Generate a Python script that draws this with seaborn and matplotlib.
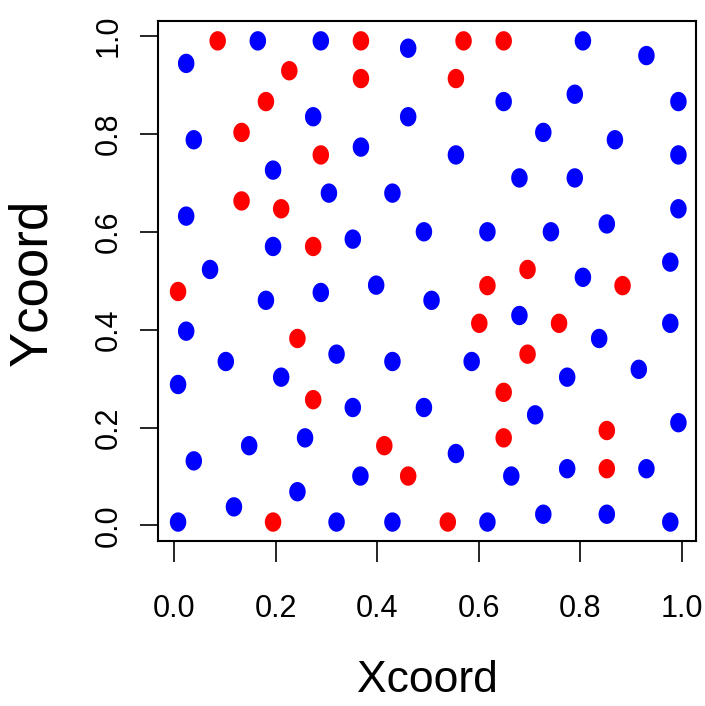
import numpy as np
import pandas as pd
import matplotlib
matplotlib.use("Agg")
import matplotlib.pyplot as plt
from matplotlib.path import Path
import seaborn as sns

# Point coordinates for the two groups
x_red = [0.086, 0.368, 0.570, 0.649, 0.227, 0.368, 0.555, 0.181, 0.133, 0.289,
         0.133, 0.211, 0.274, 0.696, 0.008, 0.617, 0.883, 0.601, 0.758, 0.243,
         0.696, 0.649, 0.274, 0.852, 0.649, 0.414, 0.461, 0.852, 0.195, 0.539]
y_red = [0.990, 0.990, 0.990, 0.990, 0.929, 0.913, 0.913, 0.866, 0.803, 0.757,
         0.663, 0.647, 0.570, 0.523, 0.478, 0.490, 0.490, 0.413, 0.413, 0.382,
         0.350, 0.272, 0.257, 0.194, 0.179, 0.163, 0.101, 0.116, 0.007, 0.007]

x_blue = [0.165, 0.289, 0.805, 0.461, 0.930, 0.024, 0.274, 0.461, 0.649, 0.789,
          0.993, 0.039, 0.368, 0.727, 0.868, 0.195, 0.555, 0.993, 0.305, 0.430,
          0.680, 0.789, 0.993, 0.024, 0.195, 0.352, 0.492, 0.617, 0.742, 0.852,
          0.071, 0.398, 0.977, 0.805, 0.181, 0.289, 0.507, 0.680, 0.837, 0.977,
          0.024, 0.320, 0.430, 0.102, 0.586, 0.211, 0.774, 0.915, 0.008, 0.352,
          0.492, 0.711, 0.993, 0.258, 0.148, 0.039, 0.555, 0.367, 0.664, 0.774,
          0.930, 0.243, 0.118, 0.008, 0.320, 0.430, 0.617, 0.727, 0.852, 0.977]
y_blue = [0.990, 0.990, 0.990, 0.975, 0.960, 0.944, 0.835, 0.835, 0.866, 0.881,
          0.866, 0.788, 0.773, 0.803, 0.788, 0.726, 0.757, 0.757, 0.679, 0.679,
          0.710, 0.710, 0.647, 0.632, 0.570, 0.585, 0.600, 0.600, 0.600, 0.616,
          0.523, 0.491, 0.538, 0.507, 0.460, 0.476, 0.460, 0.429, 0.382, 0.413,
          0.397, 0.350, 0.335, 0.335, 0.335, 0.303, 0.303, 0.319, 0.288, 0.241,
          0.241, 0.226, 0.210, 0.179, 0.163, 0.132, 0.147, 0.101, 0.101, 0.116,
          0.116, 0.069, 0.038, 0.007, 0.007, 0.007, 0.007, 0.023, 0.023, 0.007]

tick_values = [0.0, 0.2, 0.4, 0.6, 0.8, 1.0]
tick_labels = ["0.0", "0.2", "0.4", "0.6", "0.8", "1.0"]

df = pd.DataFrame({
    "Xcoord": x_red + x_blue,
    "Ycoord": y_red + y_blue,
    "group": ["red"] * len(x_red) + ["blue"] * len(x_blue),
})

sns.set_theme(style="ticks")
plt.rcParams["font.family"] = ["Liberation Sans", "DejaVu Sans"]

fig = plt.figure(figsize=(7.05, 7.06), dpi=100)
W, H = 705, 706
left, right, top, bottom = 158, 696, 21, 541
ax = fig.add_axes([left / W, (H - bottom) / H, (right - left) / W, (bottom - top) / H])

# slightly tall elliptical dot
theta = np.linspace(0, 2 * np.pi, 60)
ellipse = Path(np.column_stack([0.85 * np.cos(theta), np.sin(theta)]), closed=True)

sns.scatterplot(data=df, x="Xcoord", y="Ycoord", hue="group",
                palette={"red": "#ff0000", "blue": "#0000ff"},
                marker=ellipse, s=195, linewidth=0, legend=False, ax=ax)

ax.set_xlim(-0.0315, 1.0276)
ax.set_ylim(-0.0317, 1.0306)
ax.set_xticks(tick_values)
ax.set_xticklabels(tick_labels)
ax.set_yticks(tick_values)
ax.set_yticklabels(tick_labels)

for sp in ax.spines.values():
    sp.set_color("black")
    sp.set_linewidth(1.5)

ax.tick_params(axis="x", length=15, width=1.2, color="black", labelsize=22,
               pad=23, labelcolor="black")
ax.tick_params(axis="y", length=13, width=1.2, color="black", labelsize=22,
               pad=12, labelcolor="black", labelrotation=90)
for lab in ax.get_yticklabels():
    lab.set_va("center")

ax.set_xlabel("Xcoord", fontsize=32, color="black")
ax.set_ylabel("Ycoord", fontsize=38, color="black")
ax.xaxis.set_label_coords((427 - left) / (right - left), (bottom - 681) / (bottom - top))
ax.yaxis.set_label_coords((32 - left) / (right - left), (bottom - 282) / (bottom - top))
ax.xaxis.label.set_va("center")
ax.yaxis.label.set_va("center")

fig.savefig("out.png", dpi=100, facecolor="white")
